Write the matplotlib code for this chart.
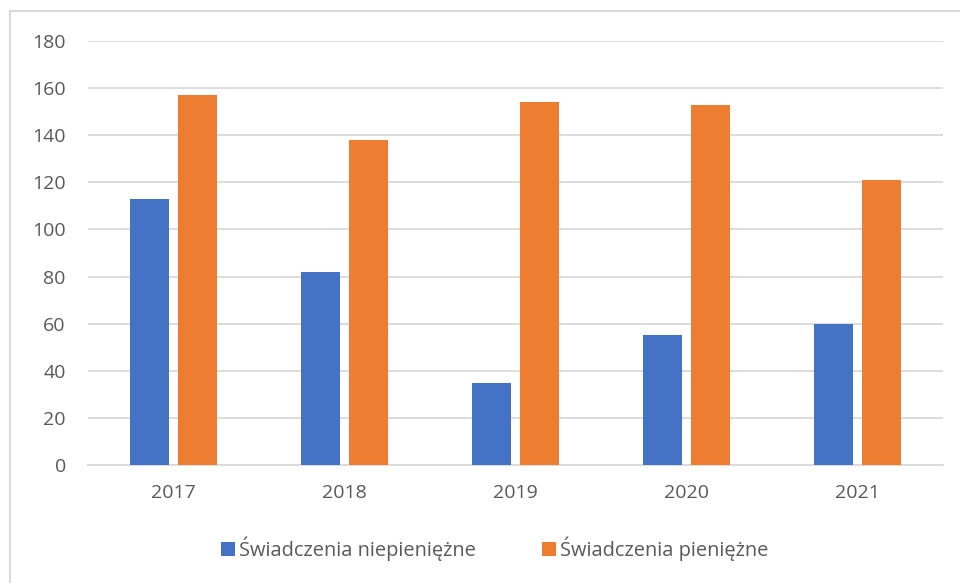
import matplotlib.pyplot as plt
from matplotlib.lines import Line2D
import numpy as np

# Liczba świadczeń w latach 2017-2021
years = ['2017', '2018', '2019', '2020', '2021']
non_cash = [113, 82, 35, 55, 60]
cash = [157, 138, 154, 153, 121]
series_names = ['Świadczenia niepieniężne', 'Świadczenia pieniężne']

blue = '#4472C4'
orange = '#ED7D31'
text_gray = '#595959'
grid_gray = '#D9D9D9'

plt.rcParams['font.family'] = ['Open Sans', 'DejaVu Sans']

fig = plt.figure(figsize=(9.6, 5.83), dpi=100)
ax = fig.add_axes([88 / 960, 1 - 465 / 583, 855 / 960, 424 / 583])

x = np.arange(len(years))
width = 0.227
offset = 0.142
ax.bar(x - offset, non_cash, width, color=blue, label=series_names[0], zorder=3)
ax.bar(x + offset, cash, width, color=orange, label=series_names[1], zorder=3)

ax.set_xlim(-0.5, len(years) - 0.5)
ax.set_ylim(0, 180)
ax.set_yticks(range(0, 181, 20))
ax.set_xticks(x)
ax.set_xticklabels(years)
ax.yaxis.grid(True, color=grid_gray, linewidth=1.3, zorder=0)
ax.tick_params(axis='both', length=0, colors=text_gray, labelsize=14)
ax.tick_params(axis='y', pad=16)
ax.tick_params(axis='x', pad=14)
for side in ['top', 'right', 'left']:
    ax.spines[side].set_visible(False)
ax.spines['bottom'].set_color(grid_gray)
ax.spines['bottom'].set_linewidth(1.3)

leg = fig.legend(loc='center', bbox_to_anchor=(495 / 960, 1 - 549 / 583), ncol=2,
                 frameon=False, fontsize=14.4, handlelength=0.7, handleheight=0.7,
                 handletextpad=0.2, columnspacing=3.3)
for t in leg.get_texts():
    t.set_color(text_gray)

# obramowanie wykresu (lewa i górna krawędź)
fig.add_artist(Line2D([10 / 960, 10 / 960], [0, 1 - 11 / 583], color=grid_gray, linewidth=1.5))
fig.add_artist(Line2D([10 / 960, 1], [1 - 11 / 583, 1 - 11 / 583], color=grid_gray, linewidth=1.5))

fig.savefig('out.png', dpi=100)
